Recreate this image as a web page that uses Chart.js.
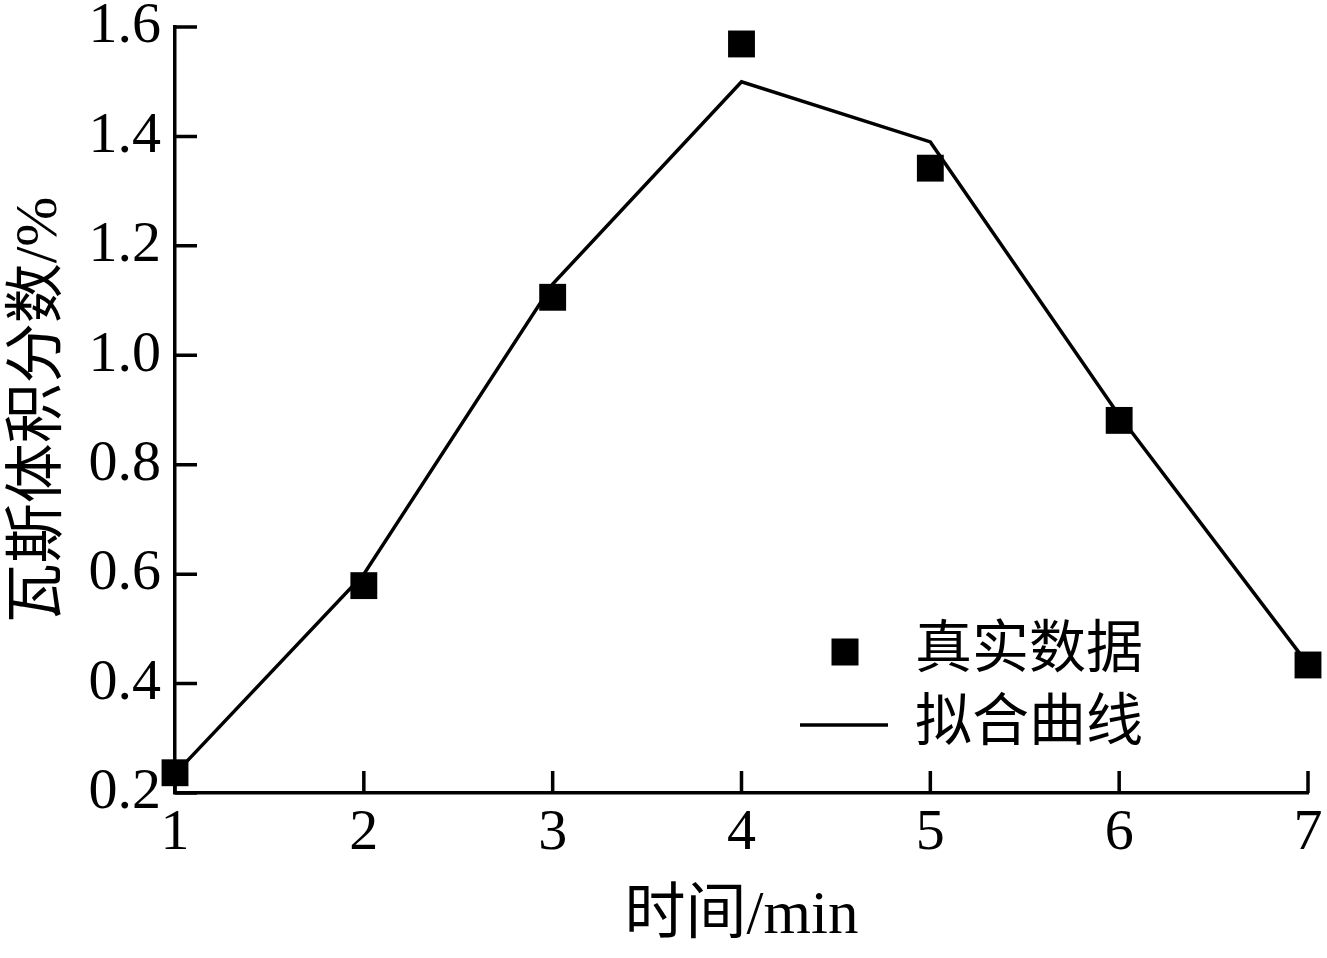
<!DOCTYPE html>
<html lang="zh">
<head>
  <meta charset="UTF-8">
  <title>瓦斯体积分数</title>
  <script src="https://cdn.jsdelivr.net/npm/chart.js"></script>
  <style>
    html, body { margin: 0; padding: 0; background: #fff; }
    .wrap { width: 1327px; height: 958px; position: relative; }
  </style>
</head>
<body>
  <div class="wrap"><canvas id="grafico"></canvas></div>
  <script>
    // datos
    const tiempos = [1, 2, 3, 4, 5, 6, 7];
    const realData = [0.237, 0.579, 1.106, 1.569, 1.342, 0.881, 0.434];
    const fitData = [0.235, 0.60, 1.13, 1.50, 1.39, 0.89, 0.435];
    const xTicks = [1, 2, 3, 4, 5, 6, 7];
    const yTicks = [0.2, 0.4, 0.6, 0.8, 1.0, 1.2, 1.4, 1.6];
    const seriesNames = ['真实数据', '拟合曲线'];

    const FONT = '"Liberation Serif", "Noto Sans CJK SC", serif';

    // ticks hacia dentro + leyenda
    const extras = {
      id: 'extras',
      afterDraw(chart) {
        const ctx = chart.ctx;
        const area = chart.chartArea;
        const x = chart.scales.x, y = chart.scales.y;
        ctx.save();
        ctx.strokeStyle = '#000';
        ctx.lineWidth = 3.5;
        ctx.beginPath();
        xTicks.forEach(v => {
          const px = x.getPixelForValue(v);
          ctx.moveTo(px, area.bottom);
          ctx.lineTo(px, area.bottom - 22);
        });
        yTicks.forEach(v => {
          const py = y.getPixelForValue(v);
          ctx.moveTo(area.left, py);
          ctx.lineTo(area.left + 22, py);
        });
        ctx.stroke();

        // leyenda
        const lx = area.left + 625;
        const ly1 = area.top + 625;
        const ly2 = area.top + 698;
        ctx.fillStyle = '#000';
        ctx.fillRect(lx + 45 - 13.5, ly1 - 13.5, 27, 27);
        ctx.lineWidth = 3.5;
        ctx.beginPath();
        ctx.moveTo(lx, ly2);
        ctx.lineTo(lx + 88, ly2);
        ctx.stroke();
        ctx.font = '57px ' + FONT;
        ctx.textAlign = 'left';
        ctx.textBaseline = 'middle';
        ctx.fillText(seriesNames[0], lx + 115, ly1);
        ctx.fillText(seriesNames[1], lx + 115, ly2);
        ctx.restore();
      }
    };

    new Chart(document.getElementById('grafico'), {
      type: 'scatter',
      data: {
        datasets: [
          {
            label: seriesNames[1],
            type: 'line',
            data: tiempos.map((t, i) => ({ x: t, y: fitData[i] })),
            borderColor: '#000',
            borderWidth: 3.5,
            pointRadius: 0,
            fill: false,
            tension: 0,
            clip: false,
            order: 2
          },
          {
            label: seriesNames[0],
            data: tiempos.map((t, i) => ({ x: t, y: realData[i] })),
            pointStyle: 'rect',
            pointRadius: 19,
            backgroundColor: '#000',
            borderWidth: 0,
            clip: false,
            order: 1
          }
        ]
      },
      options: {
        responsive: true,
        maintainAspectRatio: false,
        animation: false,
        layout: { padding: { top: 27, right: 15, left: 0, bottom: 0 } },
        plugins: { legend: { display: false }, tooltip: { enabled: false } },
        scales: {
          x: {
            type: 'linear',
            min: 1, max: 7,
            afterBuildTicks: s => { s.ticks = xTicks.map(v => ({ value: v })); },
            afterFit: s => { s.height = 165; s.paddingLeft = 0; s.paddingRight = 0; },
            grid: { display: true, drawOnChartArea: false, drawTicks: false },
            border: { display: true, color: '#000', width: 3.5 },
            ticks: { color: '#000', font: { family: FONT, size: 58 }, padding: 6 },
            title: { display: true, text: '时间/min', color: '#000', font: { family: FONT, size: 61 }, padding: { top: 2 } }
          },
          y: {
            type: 'linear',
            min: 0.2, max: 1.6,
            afterBuildTicks: s => { s.ticks = yTicks.map(v => ({ value: v })); },
            afterFit: s => { s.width = 175; s.paddingTop = 0; s.paddingBottom = 0; },
            grid: { display: true, drawOnChartArea: false, drawTicks: false },
            border: { display: true, color: '#000', width: 3.5 },
            ticks: { color: '#000', font: { family: FONT, size: 58 }, padding: 14, callback: v => v.toFixed(1) },
            title: { display: true, text: '瓦斯体积分数/%', color: '#000', font: { family: FONT, size: 60 }, padding: { bottom: 0 } }
          }
        }
      },
      plugins: [extras]
    });
  </script>
</body>
</html>
